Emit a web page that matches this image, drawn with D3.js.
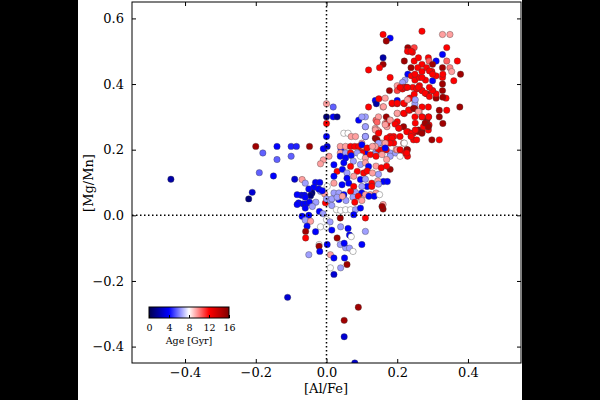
<!DOCTYPE html>
<meta charset="utf-8">
<script src="https://d3js.org/d3.v7.min.js"></script>
<style>
body { margin: 0; background: #000; }
svg { display: block; }
text { font-family: "DejaVu Serif", serif; fill: #000; }
</style>
<svg width="600" height="400"></svg>
<script>
// tick values
const xTicks = [-0.4, -0.2, 0.0, 0.2, 0.4];
const yTicks = [-0.4, -0.2, 0.0, 0.2, 0.4, 0.6];
const ageTicks = [0, 4, 8, 12, 16];

// [Al/Fe], [Mg/Mn], age (Gyr)
const scattered = [
  [-0.44, 0.11, 2], [-0.22, 0.05, 1], [-0.21, 0.07, 3], [-0.19, 0.13, 5.5],
  [-0.15, 0.12, 4], [-0.14, 0.17, 5.5], [-0.18, 0.19, 5.5], [-0.20, 0.21, 15],
  [-0.14, 0.21, 4], [-0.10, 0.21, 4.5], [-0.085, 0.21, 4.5], [-0.048, 0.21, 15],
  [-0.10, 0.18, 5.5], [-0.09, 0.11, 3], [-0.11, -0.25, 3], [0.09, -0.28, 15],
  [0.05, -0.32, 15], [0.05, -0.37, 3], [0.08, -0.45, 3]
];

const lowStars = [
  [0.0, 0.30, 1], [0.0, 0.28, 12], [0.0, 0.24, 4], [-0.009, 0.203, 4], [0.002, 0.21, 3],
  [0.0, 0.34, 9.5], [0.019, 0.33, 5.5], [0.019, 0.30, 4], [0.03, 0.30, 1.5],
  [0.091, 0.29, 4], [0.10, 0.30, 6.5], [0.11, 0.27, 6.5], [0.049, 0.25, 8],
  [0.061, 0.25, 8], [0.07, 0.24, 9.5], [0.082, 0.24, 9.5], [0.11, 0.24, 6.5],
  [0.041, 0.203, 4], [0.039, 0.21, 9.5], [0.054, 0.21, 9.5], [0.068, 0.21, 12],
  [0.08, 0.21, 12], [0.091, 0.21, 12], [0.10, 0.215, 4], [0.115, 0.205, 12],
  [0.13, 0.21, 9.5], [0.039, 0.19, 9.5], [0.054, 0.19, 6.5], [0.068, 0.19, 12],
  [-0.009, 0.169, 9.5], [0.007, 0.18, 9.5], [-0.017, 0.157, 9.5], [0.039, 0.18, 4],
  [0.054, 0.175, 4], [0.07, 0.182, 4], [0.087, 0.19, 6.5], [0.096, 0.18, 8],
  [0.11, 0.175, 9.5], [0.124, 0.185, 12], [0.14, 0.18, 12], [0.157, 0.185, 9.5],
  [0.076, 0.165, 6.5], [0.021, 0.154, 4], [0.049, 0.16, 4], [0.068, 0.149, 12],
  [0.096, 0.155, 6.5], [0.11, 0.16, 9.5], [0.119, 0.149, 4], [0.14, 0.15, 9.5],
  [0.155, 0.145, 12], [0.18, 0.14, 15], [0.17, 0.17, 9.5], [0.17, 0.15, 12],
  [0.03, 0.134, 12], [0.045, 0.14, 4], [0.058, 0.129, 6.5], [0.087, 0.134, 12],
  [0.105, 0.129, 12], [0.115, 0.135, 12], [0.13, 0.129, 9.5], [0.147, 0.125, 6.5],
  [0.161, 0.103, 4], [0.172, 0.103, 4], [0.021, 0.119, 4], [0.058, 0.113, 4],
  [0.077, 0.119, 9.5], [0.096, 0.109, 4], [0.11, 0.11, 6.5], [0.128, 0.098, 12],
  [0.145, 0.105, 9.5], [0.147, 0.095, 6.5], [0.115, 0.088, 4], [0.10, 0.088, 6.5],
  [0.021, 0.098, 9.5], [0.002, 0.088, 8], [0.044, 0.093, 4], [0.063, 0.098, 4],
  [0.077, 0.088, 12], [0.082, 0.07, 6.5], [0.10, 0.068, 4], [0.124, 0.063, 9.5],
  [0.14, 0.068, 9.5], [-0.017, 0.073, 6.5], [-0.005, 0.065, 9.5], [0.021, 0.068, 6.5],
  [0.035, 0.068, 6.5], [0.049, 0.063, 4], [0.128, 0.088, 12], [0.068, 0.073, 12],
  [0.035, 0.048, 4], [0.055, 0.045, 6.5], [0.075, 0.055, 6.5], [0.11, 0.063, 9.5],
  [0.135, 0.058, 4], [0.15, 0.063, 8], [-0.071, 0.061, 4], [-0.062, 0.061, 4],
  [-0.069, 0.109, 9.5], [-0.06, 0.098, 6.5], [-0.031, 0.1, 4], [-0.019, 0.1, 4],
  [-0.036, 0.085, 4], [-0.022, 0.08, 4], [-0.012, 0.075, 4], [-0.041, 0.068, 1],
  [-0.05, 0.08, 4], [-0.045, 0.06, 1], [-0.083, 0.063, 4], [-0.079, 0.038, 4],
  [-0.067, 0.035, 4], [-0.058, 0.035, 4], [-0.048, 0.04, 4], [-0.03, 0.04, 6.5],
  [-0.003, 0.038, 12], [0.0, 0.05, 6.5], [0.011, 0.045, 6.5], [-0.06, 0.055, 4],
  [0.015, 0.05, 6.5], [0.03, 0.055, 6.5], [0.045, 0.058, 9.5], [0.09, 0.058, 12],
  [0.08, 0.04, 12], [0.1, 0.045, 9.5], [0.12, 0.058, 4], [-0.083, 0.033, 4],
  [-0.06, 0.022, 4], [-0.04, 0.027, 6.5], [-0.02, 0.012, 4], [0.015, 0.03, 6.5],
  [0.028, 0.017, 8], [0.04, 0.015, 8], [0.054, 0.017, 8], [0.068, 0.017, 8],
  [0.082, 0.017, 6.5], [0.096, 0.022, 4], [0.16, 0.033, 9.5], [0.16, 0.019, 15],
  [0.157, 0.027, 15], [-0.069, -0.003, 4], [-0.05, 0.0, 4], [-0.01, 0.005, 6.5],
  [0.039, -0.008, 15], [0.077, 0.002, 4], [0.11, -0.008, 12], [0.0, -0.013, 8],
  [0.01, -0.02, 6.5], [-0.06, -0.015, 6.5], [-0.045, -0.018, 9.5], [-0.055, -0.033, 4],
  [-0.017, -0.035, 8], [0.0, -0.035, 8], [-0.031, -0.05, 4], [-0.059, -0.049, 15],
  [-0.059, -0.069, 12], [0.015, -0.045, 4], [0.03, -0.069, 15], [0.04, -0.035, 6.5],
  [0.061, -0.04, 4], [0.065, -0.06, 4], [0.07, -0.065, 8], [0.11, -0.049, 6.5],
  [-0.021, -0.089, 8], [-0.021, -0.094, 15], [0.002, -0.089, 4], [0.039, -0.089, 6.5],
  [0.054, -0.099, 6.5], [0.1, -0.089, 4], [-0.05, -0.12, 6.5], [-0.019, -0.11, 4],
  [0.011, -0.12, 9.5], [0.021, -0.13, 4], [0.051, -0.13, 4], [0.058, -0.15, 15],
  [0.011, -0.16, 8], [0.04, -0.16, 6.5], [0.021, -0.18, 3], [0.065, -0.1, 6.5],
  [0.075, -0.11, 8], [0.05, -0.085, 4]
];

const highStars = [
  [0.16, 0.551, 12], [0.18, 0.54, 4], [0.169, 0.531, 15], [0.27, 0.561, 12],
  [0.328, 0.551, 9.5], [0.349, 0.551, 9.5], [0.23, 0.511, 15], [0.248, 0.511, 11],
  [0.232, 0.5, 15], [0.243, 0.497, 12], [0.34, 0.511, 12], [0.328, 0.49, 4],
  [0.16, 0.48, 2], [0.16, 0.46, 15], [0.15, 0.45, 12], [0.119, 0.443, 12],
  [0.22, 0.47, 15], [0.248, 0.47, 12], [0.26, 0.48, 12], [0.288, 0.48, 12],
  [0.29, 0.47, 10.5], [0.31, 0.47, 4], [0.27, 0.46, 12], [0.3, 0.46, 15],
  [0.34, 0.47, 10.5], [0.37, 0.47, 12], [0.328, 0.45, 15], [0.349, 0.45, 10],
  [0.354, 0.438, 9.5], [0.379, 0.43, 15], [0.239, 0.45, 15], [0.258, 0.45, 12],
  [0.27, 0.438, 12], [0.283, 0.45, 12], [0.298, 0.438, 12], [0.18, 0.42, 12],
  [0.23, 0.43, 4], [0.222, 0.412, 6.5], [0.215, 0.405, 6.5], [0.24, 0.425, 12],
  [0.25, 0.412, 12], [0.262, 0.42, 12], [0.28, 0.412, 12], [0.3, 0.41, 4],
  [0.31, 0.425, 12], [0.328, 0.42, 12], [0.328, 0.4, 15], [0.36, 0.41, 12],
  [0.2, 0.395, 9.5], [0.225, 0.39, 12], [0.244, 0.39, 12], [0.263, 0.395, 12],
  [0.178, 0.38, 15], [0.2, 0.38, 11], [0.215, 0.385, 12], [0.255, 0.385, 12],
  [0.27, 0.38, 12], [0.284, 0.37, 15], [0.3, 0.38, 12], [0.31, 0.357, 15],
  [0.328, 0.38, 15], [0.338, 0.357, 12], [0.329, 0.36, 15], [0.31, 0.37, 12],
  [0.377, 0.33, 15], [0.319, 0.32, 15], [0.34, 0.32, 12], [0.319, 0.3, 15],
  [0.329, 0.28, 15], [0.288, 0.33, 12], [0.27, 0.33, 12], [0.288, 0.3, 15],
  [0.27, 0.3, 15], [0.25, 0.3, 12], [0.119, 0.33, 12], [0.138, 0.35, 4],
  [0.141, 0.34, 2], [0.148, 0.355, 12], [0.166, 0.357, 9.5], [0.186, 0.34, 12],
  [0.2, 0.34, 12], [0.22, 0.34, 12], [0.235, 0.357, 12], [0.25, 0.34, 6.5],
  [0.16, 0.33, 9.5], [0.169, 0.3, 15], [0.18, 0.29, 9.5], [0.2, 0.31, 9.5],
  [0.22, 0.31, 12], [0.235, 0.32, 12], [0.25, 0.325, 15], [0.262, 0.315, 9.5],
  [0.2, 0.35, 4], [0.14, 0.29, 10.5], [0.166, 0.28, 9.5], [0.171, 0.27, 9.5],
  [0.2, 0.285, 12], [0.218, 0.27, 15], [0.205, 0.265, 12], [0.23, 0.255, 12],
  [0.245, 0.25, 12], [0.26, 0.26, 15], [0.27, 0.255, 15], [0.284, 0.29, 15],
  [0.29, 0.275, 12], [0.28, 0.28, 12], [0.208, 0.24, 12], [0.246, 0.23, 12],
  [0.298, 0.23, 15], [0.319, 0.23, 12], [0.227, 0.2, 15], [0.218, 0.22, 9.5],
  [0.208, 0.19, 12], [0.11, 0.3, 6.5], [0.11, 0.27, 6.5], [0.11, 0.24, 4],
  [0.138, 0.265, 9.5], [0.148, 0.255, 12], [0.138, 0.235, 15], [0.18, 0.24, 12],
  [0.19, 0.24, 12], [0.19, 0.22, 12], [0.175, 0.22, 9.5], [0.155, 0.22, 6.5],
  [0.138, 0.21, 9.5], [0.11, 0.19, 4], [0.138, 0.19, 6.5], [0.166, 0.2, 4],
  [0.18, 0.19, 6.5], [0.195, 0.19, 6.5], [0.197, 0.2, 9.5], [0.22, 0.19, 12],
  [0.208, 0.18, 8], [0.1, 0.22, 9.5], [0.1, 0.2, 12], [0.143, 0.26, 9.5],
  [0.147, 0.30, 9.5], [0.171, 0.28, 12], [0.143, 0.23, 15], [0.16, 0.22, 9.5],
  [0.175, 0.23, 12], [0.147, 0.20, 12], [0.16, 0.20, 12], [0.169, 0.20, 12],
  [0.255, 0.23, 12], [0.22, 0.22, 8], [0.229, 0.18, 12], [0.229, 0.2, 15],
  [0.218, 0.39, 12], [0.227, 0.39, 12], [0.27, 0.38, 12], [0.3, 0.38, 12],
  [0.185, 0.342, 12], [0.2, 0.342, 12], [0.218, 0.342, 12], [0.237, 0.357, 12],
  [0.161, 0.331, 9.5], [0.18, 0.29, 9.5], [0.2, 0.311, 9.5], [0.218, 0.311, 12],
  [0.232, 0.321, 12], [0.246, 0.326, 15], [0.26, 0.316, 9.5], [0.143, 0.284, 10.5],
  [0.166, 0.276, 9.5], [0.194, 0.278, 12], [0.204, 0.266, 12], [0.227, 0.255, 12],
  [0.241, 0.25, 12], [0.26, 0.255, 15], [0.284, 0.276, 15], [0.288, 0.26, 12],
  [0.274, 0.27, 12], [0.138, 0.26, 9.5], [0.147, 0.25, 12], [0.171, 0.235, 12],
  [0.185, 0.235, 12], [0.18, 0.22, 12], [0.166, 0.22, 9.5], [0.147, 0.22, 6.5],
  [0.138, 0.21, 9.5], [0.138, 0.185, 6.5], [0.166, 0.205, 4], [0.18, 0.18, 6.5],
  [0.2, 0.2, 9.5], [0.227, 0.19, 12], [0.1, 0.21, 9.5], [0.1, 0.19, 12],
  [0.229, 0.5, 12], [0.239, 0.5, 12], [0.291, 0.44, 12], [0.3, 0.43, 12],
  [0.329, 0.43, 12], [0.27, 0.42, 12], [0.25, 0.43, 12], [0.291, 0.39, 12],
  [0.279, 0.372, 12], [0.26, 0.39, 12], [0.248, 0.369, 12], [0.229, 0.39, 12],
  [0.208, 0.39, 12], [0.251, 0.352, 6.5], [0.229, 0.352, 9.5], [0.291, 0.362, 12],
  [0.289, 0.3, 12], [0.27, 0.3, 12], [0.251, 0.281, 12], [0.279, 0.281, 15],
  [0.288, 0.27, 15], [0.27, 0.25, 15], [0.251, 0.26, 12], [0.239, 0.24, 12],
  [0.208, 0.2, 12]
];

const svg = d3.select('svg');

// figure background (letterboxed, black sides)
svg.append('rect').attr('width', 600).attr('height', 400).attr('fill', '#000');
svg.append('rect').attr('x', 78).attr('width', 444).attr('height', 400).attr('fill', '#fff');

const x = d3.scaleLinear().domain([-0.55, 0.55]).range([132, 521]);
const y = d3.scaleLinear().domain([-0.45, 0.65]).range([363, 2]);

// matplotlib "seismic"
const seismic = d3.scaleLinear()
  .domain(ageTicks)
  .range(['rgb(0,0,77)', 'rgb(0,0,255)', 'rgb(255,255,255)', 'rgb(255,0,0)', 'rgb(128,0,0)'])
  .clamp(true);

svg.append('clipPath').attr('id', 'plotClip')
  .append('rect')
  .attr('x', 132).attr('y', 2).attr('width', 389).attr('height', 361);

const pts = svg.append('g').attr('clip-path', 'url(#plotClip)');

const drawStars = (data) => {
  pts.append('g')
    .selectAll('circle')
    .data(data)
    .enter()
    .append('circle')
    .attr('cx', d => x(d[0]))
    .attr('cy', d => y(d[1]))
    .attr('r', 3.2)
    .attr('fill', d => seismic(d[2]))
    .attr('stroke', 'rgba(60,60,60,0.6)')
    .attr('stroke-width', 0.6);
};

drawStars(highStars);
drawStars(lowStars);
drawStars(scattered);

// dotted zero lines
pts.append('line')
  .attr('x1', x(0)).attr('x2', x(0)).attr('y1', 2).attr('y2', 363)
  .attr('stroke', '#000').attr('stroke-width', 1.5).attr('stroke-dasharray', '1.5,2.5');
pts.append('line')
  .attr('x1', 132).attr('x2', 521).attr('y1', y(0)).attr('y2', y(0))
  .attr('stroke', '#000').attr('stroke-width', 1.5).attr('stroke-dasharray', '1.5,2.5');

// axes, ticks pointing in on all four sides
const fmt = d3.format('.1f');
const styleAxis = g => {
  g.select('.domain').remove();
  g.selectAll('text').style('font-size', '13px').style('font-family', '"DejaVu Serif", serif');
  g.selectAll('line').attr('stroke', '#000');
};

svg.append('g').attr('transform', 'translate(0,363)')
  .call(d3.axisBottom(x).tickValues(xTicks).tickFormat(fmt).tickSizeInner(-4).tickSizeOuter(0).tickPadding(5))
  .call(styleAxis);
svg.append('g').attr('transform', 'translate(0,2)')
  .call(d3.axisTop(x).tickValues(xTicks).tickFormat('').tickSizeInner(-4).tickSizeOuter(0))
  .call(styleAxis);
svg.append('g').attr('transform', 'translate(132,0)')
  .call(d3.axisLeft(y).tickValues(yTicks).tickFormat(fmt).tickSizeInner(-4).tickSizeOuter(0).tickPadding(8))
  .call(styleAxis);
svg.append('g').attr('transform', 'translate(521,0)')
  .call(d3.axisRight(y).tickValues(yTicks).tickFormat('').tickSizeInner(-4).tickSizeOuter(0))
  .call(styleAxis);

svg.append('rect')
  .attr('x', 132).attr('y', 2).attr('width', 389).attr('height', 361)
  .attr('fill', 'none').attr('stroke', '#000').attr('stroke-width', 1);

svg.append('text')
  .attr('x', 326).attr('y', 393)
  .attr('text-anchor', 'middle')
  .style('font-size', '13px')
  .text('[Al/Fe]');

svg.append('text')
  .attr('transform', 'translate(93,183) rotate(-90)')
  .attr('text-anchor', 'middle')
  .style('font-size', '13px')
  .text('[Mg/Mn]');

// inset colorbar
const cb = d3.scaleLinear().domain([0, 16]).range([149, 229]);
const grad = svg.append('defs').append('linearGradient').attr('id', 'ageGrad');
d3.range(0, 16.01, 1).forEach(v => {
  grad.append('stop').attr('offset', (v / 16 * 100) + '%').attr('stop-color', seismic(v));
});
svg.append('rect')
  .attr('x', 149).attr('y', 307).attr('width', 80).attr('height', 11)
  .attr('fill', 'url(#ageGrad)').attr('stroke', '#000').attr('stroke-width', 1);

const cbAxis = svg.append('g').attr('transform', 'translate(0,318)')
  .call(d3.axisBottom(cb).tickValues(ageTicks).tickFormat(d3.format('d')).tickSizeInner(-3).tickSizeOuter(0).tickPadding(6));
cbAxis.select('.domain').remove();
cbAxis.selectAll('line').attr('stroke', '#000');
cbAxis.selectAll('text').style('font-size', '9.5px').style('font-family', '"DejaVu Serif", serif');

svg.append('text')
  .attr('x', 189).attr('y', 344)
  .attr('text-anchor', 'middle')
  .style('font-size', '9.5px')
  .text('Age [Gyr]');
</script>
